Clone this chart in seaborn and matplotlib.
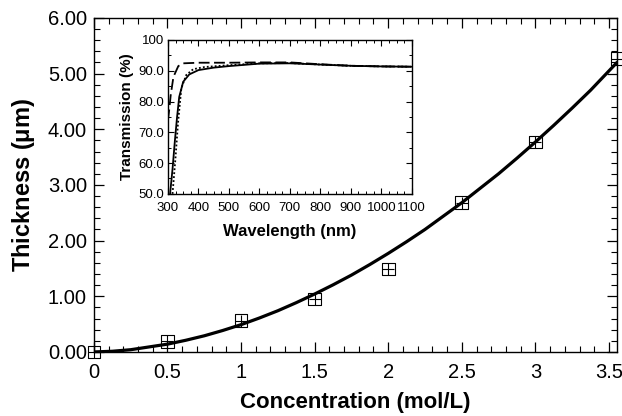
import numpy as np
import pandas as pd
import seaborn as sns
import matplotlib
matplotlib.use('Agg')
import matplotlib.pyplot as plt
from matplotlib.ticker import MultipleLocator, FormatStrFormatter

# Datos medidos (espesor vs concentracion)
conc = [0, 0.5, 1.0, 1.5, 2.0, 2.5, 3.0, 3.555]
espesor = [0, 0.19, 0.56, 0.95, 1.49, 2.68, 3.77, 5.27]

# Curva de ajuste
conc_fit = [0, 0.125, 0.25, 0.375, 0.5, 0.625, 0.75, 0.875, 1.0, 1.125, 1.25, 1.375,
            1.5, 1.625, 1.75, 1.875, 2.0, 2.125, 2.25, 2.375, 2.5, 2.625, 2.75, 2.875,
            3.0, 3.125, 3.25, 3.375, 3.555]
espesor_fit = [0, 0.012, 0.04, 0.09, 0.14, 0.21, 0.29, 0.385, 0.49, 0.61, 0.74, 0.885,
               1.04, 1.205, 1.38, 1.57, 1.77, 1.98, 2.20, 2.44, 2.68, 2.94, 3.20, 3.48,
               3.77, 4.07, 4.38, 4.70, 5.20]

# Espectros de transmision (inset)
wl_solid = [307, 315, 323, 330, 337, 350, 370, 400, 450, 500, 600, 700, 800, 900, 1000, 1100]
tr_solid = [50, 58, 67.5, 75, 81.5, 86.4, 88.8, 90.2, 91.0, 91.5, 92.3, 92.4, 92.0, 91.6, 91.4, 91.3]
wl_dot = [315, 325, 333, 344, 360, 383, 420, 500, 600, 700, 800, 900, 1000, 1100]
tr_dot = [50, 62, 73, 84.3, 88.6, 90.5, 91.2, 91.8, 92.4, 92.5, 92.0, 91.6, 91.4, 91.3]
wl_dash = [300, 305, 309, 318, 334, 350, 400, 500, 600, 700, 800, 900, 1000, 1100]
tr_dash = [73.9, 78, 82, 88, 91.5, 92.4, 92.6, 92.6, 92.7, 92.7, 92.1, 91.6, 91.4, 91.3]

sns.set_style('ticks')
plt.rcParams['font.family'] = ['Liberation Sans', 'DejaVu Sans']
plt.rcParams['mathtext.fontset'] = 'custom'
plt.rcParams['mathtext.rm'] = 'Liberation Sans'
plt.rcParams['mathtext.bf'] = 'Liberation Sans:bold'
plt.rcParams['text.color'] = 'black'
plt.rcParams['axes.labelcolor'] = 'black'

fig = plt.figure(figsize=(6.22, 4.16), dpi=100)
ax = fig.add_axes([0.151, 0.154, 0.841, 0.803])

sns.lineplot(x=conc_fit, y=espesor_fit, ax=ax, color='black', linewidth=2.3, sort=False)
sns.scatterplot(x=conc, y=espesor, ax=ax, marker='s', s=85, facecolor='none',
                edgecolor='black', linewidth=0.8, clip_on=False, zorder=5)
sns.scatterplot(x=conc, y=espesor, ax=ax, marker='+', s=85, color='black',
                linewidth=0.8, clip_on=False, zorder=6)

ax.set_xlim(0, 3.555)
ax.set_ylim(0, 6)
ax.xaxis.set_minor_locator(MultipleLocator(0.1))
ax.yaxis.set_major_locator(MultipleLocator(1))
ax.yaxis.set_minor_locator(MultipleLocator(0.2))
ax.yaxis.set_major_formatter(FormatStrFormatter('%.2f'))
ax.set_xticks([0, 0.5, 1, 1.5, 2, 2.5, 3, 3.5])
ax.set_xticklabels(['0', '0.5', '1', '1.5', '2', '2.5', '3', '3.5'])
ax.tick_params(which='both', direction='in', top=True, right=True, colors='black')
ax.tick_params(which='major', length=7, width=0.9, labelsize=14.5)
ax.tick_params(axis='x', which='major', pad=8)
ax.tick_params(axis='y', which='major', pad=5)
ax.tick_params(which='minor', length=4, width=0.8)
for s in ax.spines.values():
    s.set_linewidth(1.0)
    s.set_color('black')
ax.set_xlabel('Concentration (mol/L)', fontsize=16, fontweight='bold', labelpad=7)
ax.set_ylabel('Thickness ($\\mathbf{\\mu}$m)', fontsize=17, fontweight='bold', labelpad=8)

# Inset
axi = fig.add_axes([0.270, 0.534, 0.392, 0.370])
sns.lineplot(x=wl_solid, y=tr_solid, ax=axi, color='black', linewidth=1.3, sort=False)
sns.lineplot(x=wl_dot, y=tr_dot, ax=axi, color='black', linewidth=1.3, sort=False,
             linestyle=(0, (1, 1.2)))
sns.lineplot(x=wl_dash, y=tr_dash, ax=axi, color='black', linewidth=1.3, sort=False,
             linestyle=(0, (6, 2.5)))
axi.set_xlim(300, 1100)
axi.set_ylim(50, 100)
axi.set_xticks(range(300, 1101, 100))
axi.xaxis.set_minor_locator(MultipleLocator(25))
axi.set_yticks([50, 60, 70, 80, 90, 100])
axi.set_yticklabels(['50.0', '60.0', '70.0', '80.0', '90.0', '100'])
axi.yaxis.set_minor_locator(MultipleLocator(5))
axi.tick_params(which='both', direction='in', top=True, right=True, colors='black')
axi.tick_params(which='major', length=4, width=0.8, labelsize=9.5, pad=3)
axi.tick_params(axis='x', which='major', pad=6)
axi.tick_params(which='minor', length=2, width=0.7)
for s in axi.spines.values():
    s.set_linewidth(1.0)
    s.set_color('black')
axi.set_xlabel('Wavelength (nm)', fontsize=12, fontweight='bold', labelpad=7)
axi.set_ylabel('Transmission (%)', fontsize=11, fontweight='bold', labelpad=3)

fig.savefig('out.png', dpi=100)
